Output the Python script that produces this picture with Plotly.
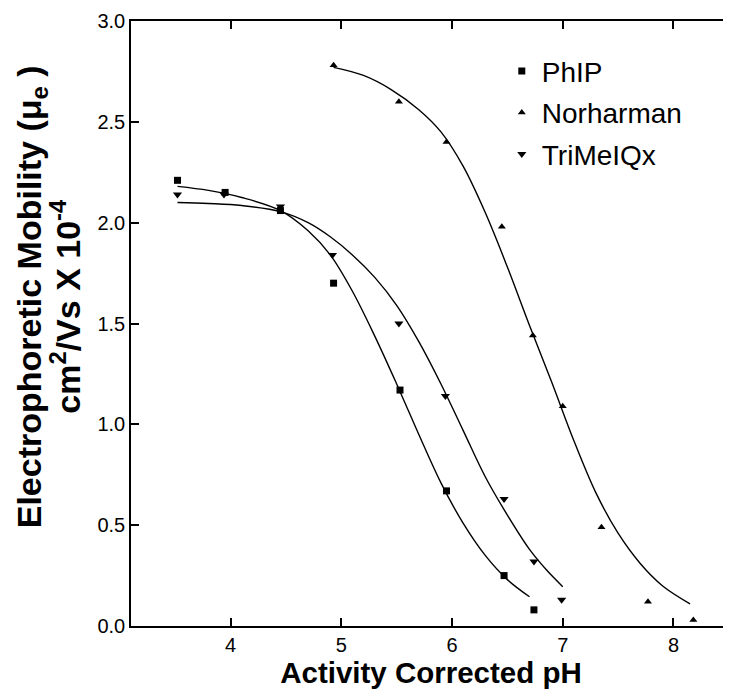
import plotly.graph_objects as go

# ---- data ----
phip_x = [3.52, 3.95, 4.45, 4.93, 5.53, 5.95, 6.47, 6.74]
phip_y = [2.21, 2.15, 2.06, 1.70, 1.17, 0.67, 0.25, 0.08]

norh_x = [4.93, 5.52, 5.95, 6.45, 6.73, 7.00, 7.35, 7.77, 8.18]
norh_y = [2.78, 2.60, 2.40, 1.98, 1.44, 1.09, 0.49, 0.12, 0.03]

trim_x = [3.52, 3.94, 4.45, 4.92, 5.52, 5.94, 6.47, 6.74, 6.99]
trim_y = [2.14, 2.14, 2.08, 1.84, 1.50, 1.14, 0.63, 0.32, 0.13]

# fitted curves
phip_fit_x = [3.52, 3.8, 4.1, 4.45, 4.7, 4.9, 5.1, 5.3, 5.5, 5.7, 5.9, 6.1, 6.3, 6.5, 6.7]
phip_fit_y = [2.18, 2.16, 2.125, 2.06, 1.96, 1.84, 1.66, 1.44, 1.20, 0.95, 0.71, 0.51, 0.35, 0.23, 0.145]

trim_fit_x = [3.52, 3.8, 4.1, 4.45, 4.7, 4.9, 5.1, 5.3, 5.5, 5.7, 5.9, 6.1, 6.3, 6.5, 6.7, 6.85, 7.0]
trim_fit_y = [2.10, 2.095, 2.085, 2.055, 2.00, 1.93, 1.84, 1.73, 1.59, 1.41, 1.20, 0.97, 0.74, 0.55, 0.38, 0.28, 0.195]

norh_fit_x = [4.93, 5.2, 5.45, 5.7, 5.9, 6.1, 6.3, 6.5, 6.7, 6.9, 7.1, 7.3, 7.5, 7.7, 7.9, 8.15]
norh_fit_y = [2.77, 2.73, 2.66, 2.56, 2.45, 2.28, 2.05, 1.78, 1.49, 1.21, 0.92, 0.66, 0.46, 0.31, 0.20, 0.11]

x_ticks = [4, 5, 6, 7, 8]
y_ticks = [0.0, 0.5, 1.0, 1.5, 2.0, 2.5, 3.0]

y_title_1 = "Electrophoretic Mobility (μ<sub>e</sub> )"
y_title_2 = "cm<sup>2</sup>/Vs X 10<sup>-4</sup>"
x_title = "Activity Corrected pH"

FONT = "Liberation Sans, Arial, sans-serif"

fig = go.Figure()

for fx, fy in [(phip_fit_x, phip_fit_y), (trim_fit_x, trim_fit_y), (norh_fit_x, norh_fit_y)]:
    fig.add_trace(go.Scatter(x=fx, y=fy, mode="lines",
                             line=dict(color="black", width=1.4, shape="spline", smoothing=1.0),
                             showlegend=False, hoverinfo="skip"))

fig.add_trace(go.Scatter(x=phip_x, y=phip_y, mode="markers", name="PhIP", legendgroup="a",
                         marker=dict(symbol="square", size=7, color="black")))
fig.add_trace(go.Scatter(x=norh_x, y=norh_y, mode="markers", name="Norharman", legendgroup="b",
                         marker=dict(symbol="triangle-up", size=7, color="black")))
fig.add_trace(go.Scatter(x=trim_x, y=trim_y, mode="markers", name="TriMeIQx", legendgroup="c",
                         marker=dict(symbol="triangle-down", size=8, color="black")))

title_font = dict(size=34, family=FONT, weight="bold", color="black")
fig.add_annotation(text=y_title_1, xref="paper", yref="paper", x=-0.1667, y=0.545,
                   xanchor="center", yanchor="middle", textangle=-90, showarrow=False, font=title_font)
fig.add_annotation(text=y_title_2, xref="paper", yref="paper", x=-0.1087, y=0.529,
                   xanchor="center", yanchor="middle", textangle=-90, showarrow=False, font=title_font)

# page body has an 8px default margin, so the figure is offset by 8px
fig.update_layout(
    width=723, height=686,
    margin=dict(l=123, r=0, t=13, b=68, autoexpand=False),
    paper_bgcolor="white", plot_bgcolor="white",
    font=dict(family=FONT, color="black", size=20),
    legend=dict(x=0.618, y=0.958, xanchor="left", yanchor="top",
                font=dict(size=28, family=FONT), bgcolor="rgba(0,0,0,0)",
                tracegroupgap=2, traceorder="grouped", itemsizing="trace"),
    xaxis=dict(range=[3.1, 8.52], tickvals=x_ticks, ticks="inside", ticklen=8, tickwidth=1.5,
               tickcolor="black", showline=True, linecolor="black", linewidth=1.5, mirror="ticks",
               showgrid=False, zeroline=False, tickfont=dict(size=20, family=FONT), automargin=False,
               title=dict(text=x_title, font=dict(size=29.5, family=FONT, weight="bold"),
                          standoff=7)),
    yaxis=dict(range=[0, 3.0], tickvals=y_ticks, tickformat=".1f", ticks="inside", ticklen=8,
               tickwidth=1.5, tickcolor="black", showline=True, linecolor="black", linewidth=1.5,
               showgrid=False, zeroline=False, tickfont=dict(size=20, family=FONT), automargin=False),
)

fig.write_html("out.html")
